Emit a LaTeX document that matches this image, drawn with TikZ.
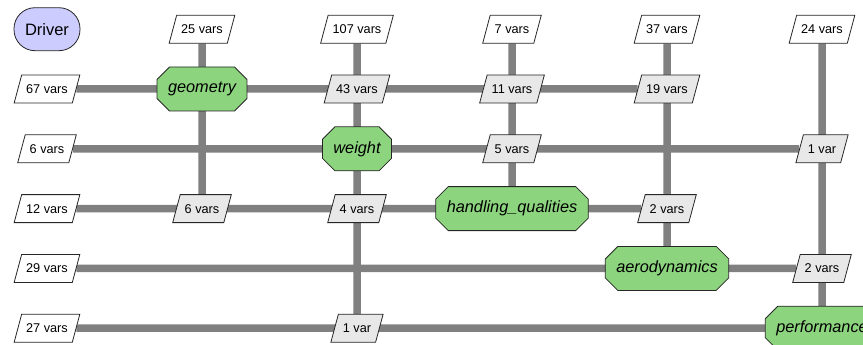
\documentclass[tikz,border=0pt]{standalone}
\usepackage{fontspec}
\setmainfont{Liberation Sans}
\usetikzlibrary{shapes.geometric,shapes.misc,positioning,backgrounds}
\definecolor{compgreen}{RGB}{140,212,126}
\definecolor{drvblue}{RGB}{204,204,255}
\definecolor{cplgray}{RGB}{232,232,232}
\definecolor{pipegray}{RGB}{128,128,128}
\tikzstyle{datanode} = [
  trapezium, trapezium left angle = 75, trapezium right angle = 105,
  draw = black!85, fill = white, line width = 0.8pt,
  text height = 9pt, text depth = 0pt, inner xsep = 4.5pt,
  inner ysep = 9.5pt, font = \fontsize{12.7}{14}\selectfont
]
\tikzstyle{cpl} = [datanode, fill = cplgray]
\tikzstyle{comp} = [
  chamfered rectangle, chamfered rectangle xsep = 9pt, draw = black!85,
  fill = compgreen, line width = 0.8pt, minimum height = 44pt,
  inner xsep = 2pt, font = \fontsize{16.3}{18}\selectfont\itshape
]
\tikzstyle{driver} = [
  rectangle, rounded corners = 21pt, draw = black!85, fill = drvblue,
  line width = 0.8pt, minimum width = 66pt, minimum height = 43pt,
  font = \fontsize{16.5}{18}\selectfont
]
\tikzstyle{pipe} = [line width = 7.5pt, draw = pipegray]

\begin{document}
\begin{tikzpicture}[x=1pt, y=1pt, node distance = 59.8pt and 155pt, on grid]
    \useasboundingbox (0,0) rectangle (863,-345);
    \clip (0,0) rectangle (863,-345);

    % disciplines on the diagonal
    \node[comp] (geom) at (202,-89) {geometry};
    \node[comp, below right=of geom] (weight) {weight};
    \node[comp, below right=of weight] (hq) {handling\_qualities};
    \node[comp, below right=of hq] (aero) {aerodynamics};
    \node[comp, below right=of aero] (perf) {performance};
    \node[driver, above left=of geom] (driver) {Driver};

    % inputs from the top
    \node[datanode] (top1) at (geom |- driver) {25 vars};
    \node[datanode] (top2) at (weight |- driver) {107 vars};
    \node[datanode] (top3) at (hq |- driver) {7 vars};
    \node[datanode] (top4) at (aero |- driver) {37 vars};
    \node[datanode] (top5) at (perf |- driver) {24 vars};

    % inputs from the left
    \node[datanode] (in1) at (driver |- geom) {67 vars};
    \node[datanode] (in2) at (driver |- weight) {6 vars};
    \node[datanode] (in3) at (driver |- hq) {12 vars};
    \node[datanode] (in4) at (driver |- aero) {29 vars};
    \node[datanode] (in5) at (driver |- perf) {27 vars};

    % couplings
    \node[cpl] (c12) at (weight |- geom) {43 vars};
    \node[cpl] (c13) at (hq |- geom) {11 vars};
    \node[cpl] (c14) at (aero |- geom) {19 vars};
    \node[cpl] (c23) at (hq |- weight) {5 vars};
    \node[cpl] (c25) at (perf |- weight) {1 var};
    \node[cpl] (c31) at (geom |- hq) {6 vars};
    \node[cpl] (c32) at (weight |- hq) {4 vars};
    \node[cpl] (c34) at (aero |- hq) {2 vars};
    \node[cpl] (c45) at (perf |- aero) {2 vars};
    \node[cpl] (c52) at (weight |- perf) {1 var};

    \begin{pgfonlayer}{background}
      \draw[pipe] (in1) -- (c14);
      \draw[pipe] (in2) -- (c25);
      \draw[pipe] (in3) -- (c34);
      \draw[pipe] (in4) -- (c45);
      \draw[pipe] (in5) -- (perf);
      \draw[pipe] (top1) -- (c31);
      \draw[pipe] (top2) -- (c52);
      \draw[pipe] (top3) -- (hq);
      \draw[pipe] (top4) -- (aero);
      \draw[pipe] (top5) -- (perf);
    \end{pgfonlayer}
\end{tikzpicture}
\end{document}
